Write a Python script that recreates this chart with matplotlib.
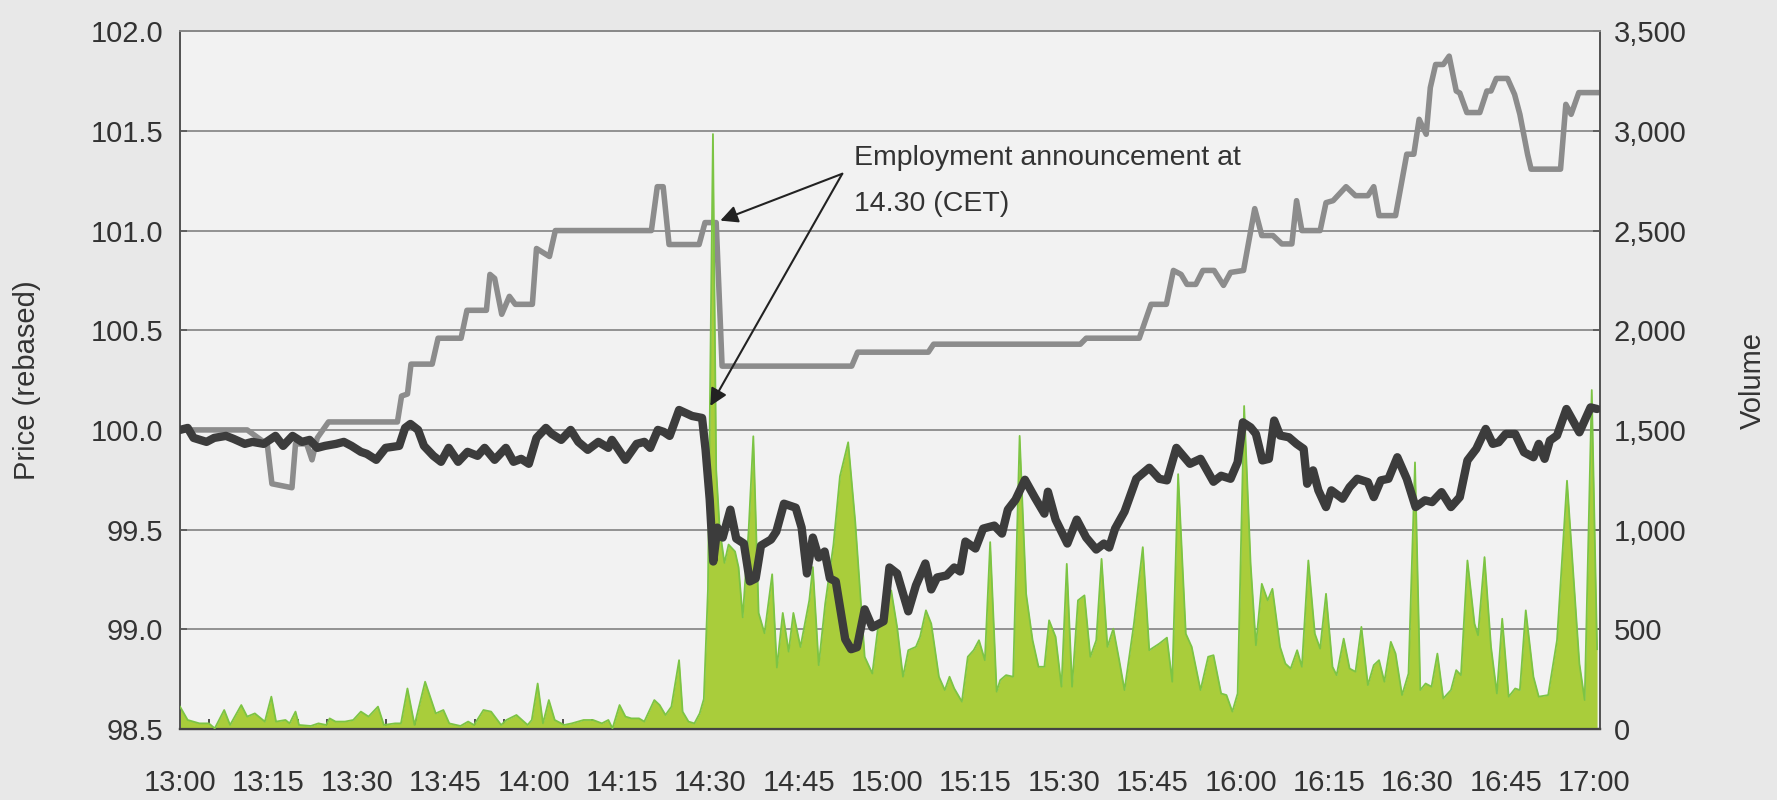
import matplotlib
matplotlib.use("Agg")
import matplotlib.pyplot as plt
from matplotlib.ticker import MultipleLocator, FuncFormatter

# minutes after 13:00
gray_t = [0, 11.4, 14.2, 14.8, 15.6, 19.0, 19.6, 21.5, 22.4, 23.3, 25.2, 36.9, 37.6, 38.6, 39.2,
          42.8, 43.8, 47.7, 48.7, 52.0, 52.6, 53.4, 54.6, 55.9, 56.9, 59.8, 60.5, 62.7, 63.7,
          80.0, 81.0, 82.0, 83.0, 88.1, 89.1, 91.0, 92.0, 114.0, 115.0, 127.0, 127.9, 152.8,
          153.8, 162.8, 164.8, 167.4, 168.6, 169.9, 170.9, 172.4, 173.6, 175.5, 177.1, 178.3,
          180.5, 182.4, 183.6, 185.5, 187.0, 188.7, 189.5, 190.4, 193.5, 194.5, 195.7, 197.9,
          199.5, 201.6, 202.6, 203.5, 206.3, 208.2, 209.4, 210.3, 211.5, 212.2, 213.1, 214.4,
          215.4, 216.6, 217.2, 218.4, 220.6, 221.8, 222.5, 223.4, 225.3, 226.5, 227.4, 228.7,
          229.3, 234.3, 235.2, 236.1, 237.4, 240.5]
gray_p = [100.0, 100.0, 99.94, 99.93, 99.73, 99.71, 99.93, 99.93, 99.85, 99.96, 100.04, 100.04,
          100.17, 100.18, 100.33, 100.33, 100.46, 100.46, 100.6, 100.6, 100.78, 100.76, 100.58,
          100.67, 100.63, 100.63, 100.91, 100.87, 101.0, 101.0, 101.22, 101.22, 100.93, 100.93,
          101.04, 101.04, 100.32, 100.32, 100.39, 100.39, 100.43, 100.43, 100.46, 100.46, 100.63,
          100.63, 100.8, 100.78, 100.73, 100.73, 100.8, 100.8, 100.725, 100.79, 100.8, 101.11,
          100.975, 100.975, 100.933, 100.933, 101.15, 101.0, 101.0, 101.14, 101.15, 101.22,
          101.175, 101.175, 101.22, 101.075, 101.075, 101.383, 101.383, 101.558, 101.483,
          101.717, 101.833, 101.833, 101.875, 101.7, 101.69, 101.592, 101.592, 101.7, 101.7,
          101.763, 101.763, 101.683, 101.583, 101.383, 101.308, 101.308, 101.633, 101.583,
          101.692, 101.692]

dark_t = [0, 1.3, 2.3, 4.5, 5.8, 7.8, 9.1, 11.0, 12.3, 14.2, 16.2, 17.5, 19.1, 20.7, 22.0, 23.3,
          24.6, 26.5, 27.8, 29.1, 30.7, 31.7, 33.3, 34.9, 37.2, 38.2, 39.1, 40.4, 41.4, 43.0, 44.3,
          45.6, 47.2, 48.8, 50.5, 51.7, 53.4, 55.3, 56.6, 57.9, 59.2, 60.5, 62.1, 63.1, 64.7, 66.3,
          67.6, 69.2, 71.0, 72.7, 73.3, 75.6, 77.5, 78.8, 79.8, 81.1, 82.1, 83.1, 84.7, 86.9, 88.6,
          89.2, 89.9, 90.5, 91.2, 92.1, 93.4, 94.4, 95.7, 96.7, 97.7, 98.6, 100.3, 101.2, 102.5,
          104.5, 105.5, 106.4, 107.4, 108.4, 109.4, 110.3, 111.3, 112.9, 113.9, 114.9, 116.2,
          117.5, 119.4, 120.4, 121.7, 123.6, 124.9, 126.5, 127.5, 128.5, 130.1, 131.4, 132.4,
          133.3, 135.0, 136.3, 138.2, 139.5, 140.5, 141.8, 143.4, 145.1, 146.7, 147.3, 148.6,
          150.6, 152.2, 153.8, 155.5, 156.8, 157.7, 158.7, 160.3, 162.3, 164.5, 166.2, 167.5,
          169.1, 171.4, 173.2, 175.4, 176.7, 178.3, 179.5, 180.4, 181.7, 182.6, 183.7, 184.8,
          185.7, 186.7, 188.2, 189.5, 190.7, 191.3, 192.3, 193.2, 194.5, 195.4, 197.3, 198.5,
          199.8, 201.6, 202.6, 203.8, 205.1, 206.6, 208.2, 209.7, 211.3, 212.5, 214.1, 215.7,
          217.2, 218.5, 220.0, 221.6, 222.8, 223.8, 225.0, 226.6, 228.1, 229.7, 230.6, 231.6,
          232.5, 233.7, 235.3, 237.5, 239.4, 240.5]
dark_p = [100.0, 100.01, 99.96, 99.94, 99.96, 99.97, 99.955, 99.93, 99.94, 99.93, 99.97, 99.92,
          99.97, 99.94, 99.95, 99.91, 99.92, 99.93, 99.94, 99.92, 99.89, 99.88, 99.85, 99.91,
          99.92, 100.01, 100.03, 100.0, 99.92, 99.87, 99.84, 99.91, 99.84, 99.89, 99.87, 99.91,
          99.85, 99.91, 99.84, 99.855, 99.83, 99.96, 100.01, 99.98, 99.95, 100.0, 99.94, 99.9,
          99.94, 99.91, 99.95, 99.85, 99.93, 99.94, 99.91, 100.0, 99.99, 99.97, 100.1, 100.07,
          100.06, 99.9, 99.65, 99.34, 99.51, 99.46, 99.6, 99.455, 99.43, 99.24, 99.255, 99.42,
          99.45, 99.49, 99.63, 99.61, 99.51, 99.28, 99.46, 99.36, 99.39, 99.255, 99.24, 98.95,
          98.9, 98.91, 99.1, 99.01, 99.04, 99.31, 99.28, 99.09, 99.22, 99.33, 99.2, 99.26, 99.27,
          99.31, 99.29, 99.44, 99.405, 99.505, 99.52, 99.48, 99.6, 99.65, 99.75, 99.66, 99.58,
          99.69, 99.55, 99.43, 99.55, 99.46, 99.4, 99.43, 99.41, 99.505, 99.59, 99.755, 99.81,
          99.755, 99.747, 99.91, 99.83, 99.855, 99.74, 99.77, 99.755, 99.838, 100.038, 100.013,
          99.98, 99.847, 99.855, 100.047, 99.972, 99.963, 99.93, 99.905, 99.73, 99.797, 99.697,
          99.613, 99.697, 99.655, 99.713, 99.755, 99.738, 99.663, 99.747, 99.755, 99.863, 99.755,
          99.613, 99.647, 99.638, 99.688, 99.613, 99.663, 99.847, 99.905, 100.005, 99.93, 99.938,
          99.98, 99.98, 99.888, 99.863, 99.93, 99.855, 99.947, 99.972, 100.105, 99.988, 100.113,
          100.105]

vol_t = [0, 1.3, 3.3, 4.9, 5.9, 7.5, 8.5, 10.4, 11.4, 12.7, 14.4, 15.5, 16.3, 17.9, 18.6, 19.6,
         20.2, 22.2, 23.5, 24.8, 25.4, 26.4, 28.0, 29.4, 30.7, 32.0, 33.6, 34.6, 36.5, 37.5, 38.6,
         39.8, 41.6, 43.4, 44.7, 45.7, 47.6, 48.9, 49.9, 51.5, 52.8, 54.5, 55.4, 57.1, 59.0, 59.7,
         60.7, 61.6, 62.6, 63.6, 65.2, 66.5, 68.5, 70.1, 71.6, 72.7, 73.4, 74.6, 75.6, 76.6, 77.9,
         78.8, 80.5, 81.4, 82.4, 83.4, 84.7, 85.3, 86.3, 87.3, 88.2, 88.9, 89.6, 90.0, 90.45, 91.0,
         91.6, 92.4, 93.1, 94.2, 94.8, 95.5, 96.5, 97.3, 98.2, 99.2, 100.5, 101.3, 102.3, 103.3,
         104.1, 105.3, 106.8, 107.4, 108.4, 109.5, 110.9, 112.0, 113.4, 114.6, 116.2, 117.5,
         118.4, 119.7, 120.7, 121.7, 122.7, 123.6, 124.9, 125.6, 126.6, 127.5, 128.8, 129.8,
         130.6, 131.4, 132.7, 133.7, 134.7, 135.6, 136.6, 137.5, 138.6, 139.2, 140.2, 141.4,
         142.5, 143.6, 144.7, 145.7, 146.7, 147.5, 148.6, 149.6, 150.5, 151.4, 152.4, 153.5,
         154.5, 155.5, 156.4, 157.4, 158.4, 159.4, 160.3, 161.9, 163.4, 164.5, 166.2, 167.5,
         168.4, 169.4, 170.7, 171.7, 173.2, 174.5, 175.4, 176.7, 177.6, 178.6, 179.5, 180.6,
         181.7, 182.6, 183.6, 184.6, 185.4, 186.7, 187.6, 188.5, 189.6, 190.4, 191.5, 192.6,
         193.5, 194.5, 195.6, 196.3, 197.5, 198.5, 199.5, 200.5, 201.6, 202.6, 203.5, 204.4,
         205.5, 206.3, 207.4, 208.5, 209.6, 210.5, 211.4, 212.4, 213.4, 214.4, 215.7, 216.6,
         217.4, 218.5, 219.7, 220.3, 221.4, 222.5, 223.5, 224.4, 225.5, 226.6, 227.4, 228.4,
         229.7, 230.6, 232.2, 233.7, 235.4, 237.5, 238.4, 239.6, 240.5]
vol_v = [112, 45, 28, 28, 3, 95, 20, 120, 62, 78, 37, 162, 37, 45, 28, 87, 20, 15, 28, 20, 53, 37,
         37, 45, 87, 62, 112, 20, 28, 28, 203, 20, 237, 78, 95, 28, 15, 37, 20, 95, 87, 20, 45, 70,
         20, 45, 228, 28, 145, 45, 20, 28, 45, 45, 28, 45, 3, 120, 62, 53, 53, 37, 145, 120, 70,
         112, 345, 87, 37, 28, 78, 150, 700, 1800, 2984, 1300, 1000, 833, 925, 890, 810, 560, 993,
         1468, 582, 480, 776, 308, 582, 388, 582, 411, 645, 812, 320, 628, 925, 1267, 1438, 1039,
         362, 278, 495, 628, 695, 512, 262, 395, 412, 462, 595, 528, 262, 195, 262, 203, 137, 362,
         395, 445, 345, 937, 187, 245, 270, 262, 1470, 678, 445, 312, 312, 545, 462, 212, 828, 212,
         645, 670, 362, 445, 853, 412, 503, 345, 195, 528, 912, 395, 428, 458, 237, 1278, 478, 412,
         195, 362, 370, 178, 170, 87, 178, 1620, 828, 420, 728, 645, 703, 412, 328, 303, 395, 312,
         845, 478, 403, 678, 312, 270, 453, 303, 287, 512, 220, 320, 345, 237, 437, 378, 170, 278,
         1337, 195, 228, 212, 378, 153, 195, 295, 270, 845, 528, 470, 862, 412, 178, 553, 162, 203,
         195, 595, 262, 162, 170, 445, 1245, 328, 145, 1700, 400]

tick_min = list(range(0, 241, 15))
tick_lab = ["13:00", "13:15", "13:30", "13:45", "14:00", "14:15", "14:30", "14:45", "15:00",
            "15:15", "15:30", "15:45", "16:00", "16:15", "16:30", "16:45", "17:00"]

note = "Employment announcement at\n14.30 (CET)"

plt.rcParams['font.family'] = ['Liberation Sans', 'DejaVu Sans']

fig = plt.figure(figsize=(17.77, 8), dpi=100, facecolor='#e8e8e8')
ax = fig.add_axes([0.1013, 0.0888, 0.7991, 0.8722])
ax.set_facecolor('#f2f2f2')

ax.plot(gray_t, gray_p, color='#8c8c8c', lw=4.0, solid_joinstyle='round', zorder=3)
ax.set_xlim(0, 241)
ax.set_ylim(98.5, 102.0)
ax.yaxis.set_major_locator(MultipleLocator(0.5))
ax.yaxis.set_major_formatter(FuncFormatter(lambda v, p: "%.1f" % v))
ax.set_xticks(tick_min)
ax.set_xticklabels(tick_lab)
ax.xaxis.set_minor_locator(MultipleLocator(5))
ax.grid(axis='y', color='#8a8a8a', lw=1.3)
ax.set_axisbelow(True)
ax.tick_params(axis='x', which='both', direction='in', length=7, width=1.2, color='#333333',
               pad=29, labelsize=21, labelcolor='#333333')
ax.tick_params(axis='y', direction='in', length=5, width=1.2, color='#555555', pad=12,
               labelsize=21, labelcolor='#333333')
ax.set_ylabel("Price (rebased)", fontsize=21, color='#333333')
ax.yaxis.set_label_coords(-0.098, 0.5)

ax2 = ax.twinx()
ax2.fill_between(vol_t, 0, vol_v, color='#a9cd3b', lw=0, zorder=2)
ax2.plot(vol_t, vol_v, color='#7cc444', lw=1.3, zorder=3)
ax2.set_ylim(0, 3500)
ax2.set_xlim(0, 241)
ax2.yaxis.set_major_locator(MultipleLocator(500))
ax2.yaxis.set_major_formatter(FuncFormatter(lambda v, p: "{:,.0f}".format(v)))
ax2.tick_params(axis='y', direction='in', length=5, width=1.2, color='#555555', pad=10,
                labelsize=21, labelcolor='#333333')
ax2.set_ylabel("Volume", fontsize=21, color='#333333')
ax2.yaxis.set_label_coords(1.098, 0.5)

for a in (ax, ax2):
    a.spines['top'].set_color('#8a8a8a')
    a.spines['top'].set_linewidth(1.3)
    a.spines['left'].set_color('#555555')
    a.spines['left'].set_linewidth(1.4)
    a.spines['right'].set_color('#555555')
    a.spines['right'].set_linewidth(1.4)
    a.spines['bottom'].set_color('#444444')
    a.spines['bottom'].set_linewidth(1.6)

ax3 = ax.twinx()
ax3.set_ylim(98.5, 102.0)
ax3.set_xlim(0, 241)
ax3.axis('off')
ax3.plot(dark_t, dark_p, color='#3c3c3c', lw=6.0, solid_joinstyle='round',
         solid_capstyle='round', zorder=4)

ax3.text(114.4, 101.247, note, fontsize=20.5, color='#333333', ha='left', va='center',
         linespacing=2.0)
for tip in [(91.7, 101.05), (90.0, 100.12)]:
    ax3.annotate('', xy=tip, xytext=(112.4, 101.285),
                 arrowprops=dict(arrowstyle='-|>', color='#222222', lw=1.5,
                                 mutation_scale=26, shrinkA=0, shrinkB=0))

fig.savefig("out.png", dpi=100, facecolor=fig.get_facecolor())
